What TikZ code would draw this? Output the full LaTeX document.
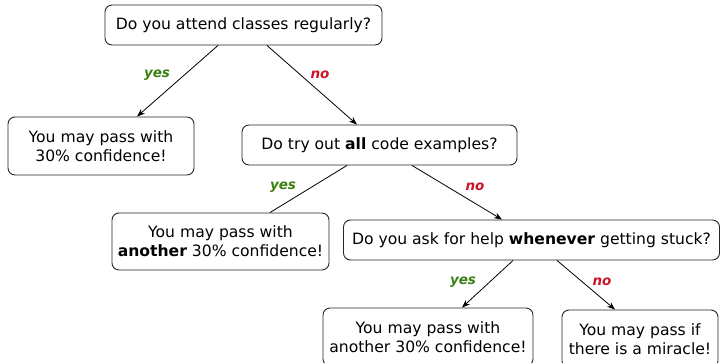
\documentclass[tikz,border=0pt]{standalone}
\usepackage{fontspec}
\setmainfont{DejaVu Sans}
\usetikzlibrary{arrows.meta}
\definecolor{yesgreen}{RGB}{56,128,16}
\definecolor{nored}{RGB}{204,20,40}
\tikzset{
  box/.style={draw=black!85, line width=0.9pt, rounded corners=7pt, inner sep=0pt,
    align=center, font=\fontsize{15.6}{19}\selectfont},
  link/.style={draw=black, line width=0.8pt},
  linktip/.style={link, -{Stealth[length=8pt,width=6pt]}},
  yeslbl/.style={text=yesgreen, font=\fontsize{13.5}{15}\selectfont\bfseries\itshape},
  nolbl/.style={text=nored, font=\fontsize{13.5}{15}\selectfont\bfseries\itshape}
}
\begin{document}
\begin{tikzpicture}[x=1pt,y=-1pt]
\useasboundingbox (0,0) rectangle (721,363);

% questions and outcomes
\node[box, minimum width=277pt, minimum height=40pt] (b1) at (243.5,25) {Do you attend classes regularly?};
\node[box, minimum width=186pt, minimum height=58pt] (b2) at (101,146) {You may pass with\\30\% confidence!};
\node[box, minimum width=275pt, minimum height=40pt] (b3) at (379.5,145) {Do try out \textbf{all} code examples?};
\node[box, minimum width=217pt, minimum height=57pt] (b4) at (220.5,241.5) {You may pass with\\\textbf{another} 30\% confidence!};
\node[box, minimum width=376pt, minimum height=40pt] (b5) at (531.5,240) {Do you ask for help \textbf{whenever} getting stuck?};
\node[box, minimum width=210pt, minimum height=58pt] (b6) at (428,337) {You may pass with\\another 30\% confidence!};
\node[box, minimum width=156pt, minimum height=58pt] (b7) at (640,339) {You may pass if\\there is a miracle!};

% branches
\draw[linktip] ([xshift=-25.5pt]b1.south) -- ([xshift=36pt]b2.north);
\draw[linktip] ([xshift=23.5pt]b1.south) -- ([xshift=-22.5pt]b3.north);
\draw[link] ([xshift=-32.5pt]b3.south) -- ([xshift=49.5pt]b4.north);
\draw[linktip] ([xshift=32.5pt]b3.south) -- ([xshift=-29.5pt]b5.north);
\draw[linktip] ([xshift=-18.5pt]b5.south) -- ([xshift=34pt]b6.north);
\draw[linktip] ([xshift=25.5pt]b5.south) -- ([xshift=-25pt]b7.north);

% branch labels
\node[yeslbl] (y1) at (157,75) {yes};
\node[nolbl] (n1) at (320,75) {no};
\node[yeslbl] (y2) at (283,187) {yes};
\node[nolbl] (n2) at (475,187) {no};
\node[yeslbl] (y3) at (463,282) {yes};
\node[nolbl] (n3) at (602,282) {no};
\end{tikzpicture}
\end{document}
